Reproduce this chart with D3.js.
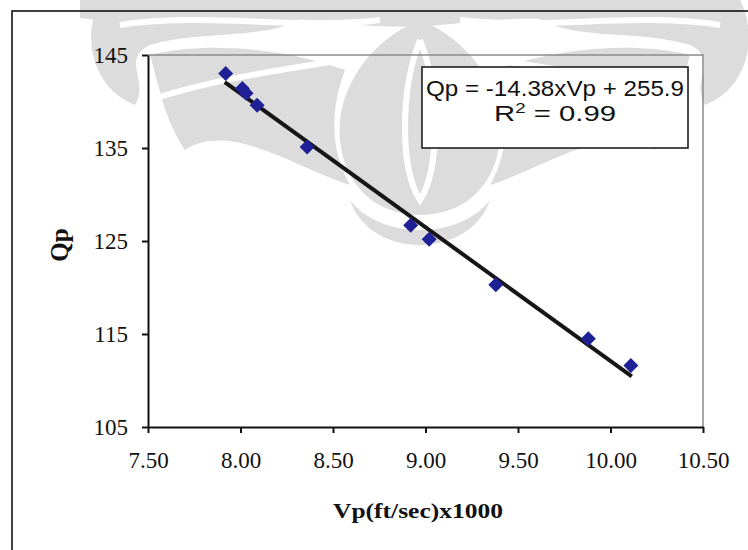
<!DOCTYPE html>
<meta charset="utf-8">
<style>
  body { margin: 0; background: #fff; }
  .tick-label { font-family: "Liberation Serif", "Times New Roman", serif; font-size: 23px; fill: #111; }
  .axis-title { font-family: "Liberation Serif", "Times New Roman", serif; font-weight: bold; fill: #111; }
  .eq { font-family: "Liberation Sans", Arial, sans-serif; font-size: 22px; fill: #111; }
</style>
<body>
<svg width="748" height="550"></svg>
<script src="https://d3js.org/d3.v7.min.js"></script>
<script>
// data
var vp = [7.92, 8.01, 8.03, 8.09, 8.36, 8.92, 9.02, 9.38, 9.88, 10.11];
var qp = [143.0, 141.4, 140.9, 139.6, 135.1, 126.7, 125.2, 120.3, 114.5, 111.6];
// trend line end points (Qp = -14.38 Vp + 255.9)
var trendVp = [7.915, 10.115];
var trendQp = [142.08, 110.44];
var xTicks = [7.5, 8.0, 8.5, 9.0, 9.5, 10.0, 10.5];
var yTicks = [105, 115, 125, 135, 145];

var svg = d3.select("svg");

/* faint watermark ornament behind the chart */
var wm = svg.append("g").attr("fill", "#dcdcdc");
wm.append("path").attr("d", "M80,0 L740,0 L740,18 C650,30 560,12 470,22 C420,28 380,28 330,22 C250,12 170,30 80,18 Z");
wm.append("path").attr("d", "M100,0 C80,40 95,90 135,105 C150,80 120,60 150,45 C200,30 260,40 300,20 L290,0 Z");
wm.append("path").attr("d", "M150,55 C210,40 290,50 345,70 C330,110 330,150 350,185 C300,170 230,120 185,150 C165,120 160,90 150,55 Z");
wm.append("path").attr("d", "M420,20 C470,40 505,90 500,140 C495,190 460,215 420,215 C380,215 345,190 340,140 C335,90 370,40 420,20 Z");
wm.append("path").attr("d", "M740,0 C760,40 745,90 705,105 C690,80 720,60 690,45 C640,30 580,40 540,20 L550,0 Z");
wm.append("path").attr("d", "M690,55 C630,40 550,50 495,70 C510,110 510,150 490,185 C540,170 610,120 655,150 C675,120 680,90 690,55 Z");
wm.append("path").attr("d", "M350,200 C380,240 460,240 490,200 C470,260 370,260 350,200 Z");
// white swirl lines through the ornament
var wl = svg.append("g").attr("fill", "none").attr("stroke", "#fff").attr("stroke-width", 6);
wl.append("path").attr("d", "M150,100 C210,80 280,70 330,62");
wl.append("path").attr("d", "M690,100 C630,80 560,70 510,62");
wl.append("path").attr("d", "M420,40 C400,90 400,170 420,200 C440,170 440,90 420,40");
wl.append("path").attr("d", "M120,25 C200,12 300,30 380,20");
wl.append("path").attr("d", "M720,25 C640,12 540,30 460,20");

/* outer chart frame */
svg.append("rect")
  .attr("x", 12).attr("y", 11)
  .attr("width", 800).attr("height", 600)
  .attr("fill", "none").attr("stroke", "#111").attr("stroke-width", 1.6);

var x = d3.scaleLinear().domain([7.5, 10.5]).range([148, 703]);
var y = d3.scaleLinear().domain([105, 145]).range([427, 55]);

/* plot area: grey top/right edges */
svg.append("path")
  .attr("d", "M" + x(7.5) + "," + y(145) + "H" + x(10.5) + "V" + y(105))
  .attr("fill", "none").attr("stroke", "#8a8a8a").attr("stroke-width", 1.5);

/* axes */
var yAxis = svg.append("g")
  .attr("transform", "translate(" + x(7.5) + ",0)")
  .call(d3.axisLeft(y).tickValues(yTicks).tickSize(6).tickSizeOuter(0).tickPadding(14).tickFormat(d3.format("d")));
var xAxis = svg.append("g")
  .attr("transform", "translate(0," + y(105) + ")")
  .call(d3.axisBottom(x).tickValues(xTicks).tickSize(6).tickSizeOuter(0).tickPadding(14).tickFormat(d3.format(".2f")));
[xAxis, yAxis].forEach(function (a) {
  a.select(".domain").attr("stroke", "#111").attr("stroke-width", 2);
  a.selectAll(".tick line").attr("stroke", "#111").attr("stroke-width", 2);
  a.selectAll(".tick text").attr("class", "tick-label").attr("font-size", null).attr("font-family", null);
});
yAxis.selectAll(".tick text").attr("dy", "0.34em");
xAxis.selectAll(".tick text").attr("dy", "0.9em");

/* trend line */
var trend = trendVp.map(function (v, i) { return [v, trendQp[i]]; });
svg.append("path")
  .datum(trend)
  .attr("d", d3.line().x(function (d) { return x(d[0]); }).y(function (d) { return y(d[1]); }))
  .attr("stroke", "#161616").attr("stroke-width", 4).attr("fill", "none");

/* data points (diamonds) */
svg.append("g").selectAll("path")
  .data(vp)
  .enter().append("path")
    .attr("transform", function (d, i) { return "translate(" + x(d) + "," + y(qp[i]) + ")"; })
    .attr("d", "M0,-7.5L7.5,0L0,7.5L-7.5,0Z")
    .attr("fill", "#1f1f96");

/* equation box */
svg.append("rect")
  .attr("x", 422).attr("y", 67).attr("width", 266).attr("height", 81)
  .attr("fill", "#fff").attr("stroke", "#111").attr("stroke-width", 1.5);
svg.append("text").attr("class", "eq")
  .attr("x", 555).attr("y", 96).attr("text-anchor", "middle")
  .attr("textLength", 258).attr("lengthAdjust", "spacingAndGlyphs")
  .text("Qp = -14.38xVp + 255.9");
var r2 = svg.append("text").attr("class", "eq")
  .attr("x", 555).attr("y", 121).attr("text-anchor", "middle")
  .attr("textLength", 122).attr("lengthAdjust", "spacingAndGlyphs");
r2.append("tspan").text("R");
r2.append("tspan").attr("font-size", "14px").attr("dy", "-8").text("2");
r2.append("tspan").attr("dy", "8").text(" = 0.99");

/* axis titles */
svg.append("text").attr("class", "axis-title")
  .attr("x", 418).attr("y", 518).attr("text-anchor", "middle")
  .attr("font-size", "22px")
  .attr("textLength", 170).attr("lengthAdjust", "spacingAndGlyphs")
  .text("Vp(ft/sec)x1000");
svg.append("text").attr("class", "axis-title")
  .attr("transform", "translate(68,245) rotate(-90)")
  .attr("text-anchor", "middle").attr("font-size", "25px")
  .text("Qp");
</script>
</body>
